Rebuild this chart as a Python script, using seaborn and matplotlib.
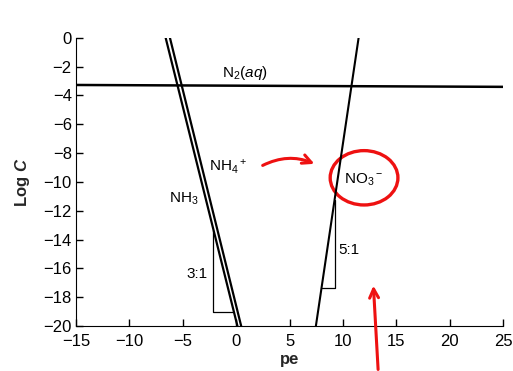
import matplotlib
matplotlib.use("Agg")
import matplotlib.pyplot as plt
from matplotlib.patches import Ellipse
import seaborn as sns

# Lines (pe, log C)
n2_pe = [-15, 25]
n2_logc = [-3.27, -3.40]
nh3_pe = [-6.6, 0.12]
nh3_logc = [0, -20]
nh4_pe = [-6.2, 0.47]
nh4_logc = [0, -20]
no3_pe = [7.46, 11.46]
no3_logc = [-20, 0]

# slope triangles
tri31_pe = [-2.18, -2.18, -0.3]
tri31_logc = [-13.3, -19.05, -19.05]
tri51_pe = [7.99, 9.21, 9.21]
tri51_logc = [-17.34, -17.34, -11.25]

x_ticks = [-15, -10, -5, 0, 5, 10, 15, 20, 25]
y_ticks = [0, -2, -4, -6, -8, -10, -12, -14, -16, -18, -20]

sns.set_style("ticks")
plt.rcParams["font.family"] = ["Liberation Sans", "DejaVu Sans"]
plt.rcParams["text.color"] = "black"
plt.rcParams["mathtext.fontset"] = "custom"
plt.rcParams["mathtext.rm"] = "Liberation Sans"
plt.rcParams["mathtext.it"] = "Liberation Sans:italic"
plt.rcParams["mathtext.bf"] = "Liberation Sans:bold"
plt.rcParams["mathtext.bfit"] = "Liberation Sans:bold:italic"

fig = plt.figure(figsize=(5.13, 3.71), dpi=100)
ax = fig.add_axes([0.148, 0.121, 0.833, 0.777])

kw = dict(sort=False, estimator=None, color="black", ax=ax, legend=False)
sns.lineplot(x=n2_pe, y=n2_logc, linewidth=1.8, **kw)
sns.lineplot(x=nh3_pe, y=nh3_logc, linewidth=1.6, **kw)
sns.lineplot(x=nh4_pe, y=nh4_logc, linewidth=1.6, **kw)
sns.lineplot(x=no3_pe, y=no3_logc, linewidth=1.5, **kw)
sns.lineplot(x=tri31_pe, y=tri31_logc, linewidth=0.9, **kw)
sns.lineplot(x=tri51_pe, y=tri51_logc, linewidth=0.9, **kw)

fs = 11
ax.text(-1.3, -2.45, r"N$_2$($\it{aq}$)", fontsize=fs, va="center")
ax.text(-2.5, -8.95, r"NH$_4$$^+$", fontsize=fs, va="center")
ax.text(-6.3, -11.2, r"NH$_3$", fontsize=fs, va="center")
ax.text(-4.7, -16.4, "3:1", fontsize=fs, va="center")
ax.text(9.6, -14.7, "5:1", fontsize=fs, va="center")
ax.text(10.1, -9.85, r"NO$_3$$^-$", fontsize=fs, va="center")

# red hand-drawn marks
red = "#ee1111"
ax.annotate("", xy=(7.56, -8.82), xytext=(2.25, -8.94),
            arrowprops=dict(arrowstyle="->", color=red, lw=2.2,
                            connectionstyle="arc3,rad=-0.25", mutation_scale=16))
ax.add_patch(Ellipse((11.97, -9.71), 6.34, 3.77, fill=False, edgecolor=red, lw=2.4))
ax.annotate("", xy=(12.83, -17.0), xytext=(13.3, -23.2),
            arrowprops=dict(arrowstyle="->", color=red, lw=2.2, mutation_scale=16),
            annotation_clip=False)

ax.set_xlim(-15, 25)
ax.set_ylim(-20, 0)
ax.set_xticks(x_ticks)
ax.set_yticks(y_ticks)
ax.tick_params(direction="in", length=5, width=1, labelsize=12, colors="black", pad=3)
ax.tick_params(axis="x", pad=6)
ax.set_xlabel("pe", fontsize=12, fontweight="bold", labelpad=2)
ax.set_ylabel(r"Log $\mathbfit{C}$", fontsize=12, fontweight="bold", labelpad=8)
sns.despine(ax=ax)
for s in ax.spines.values():
    s.set_color("black")

fig.savefig("out.png", dpi=100)
